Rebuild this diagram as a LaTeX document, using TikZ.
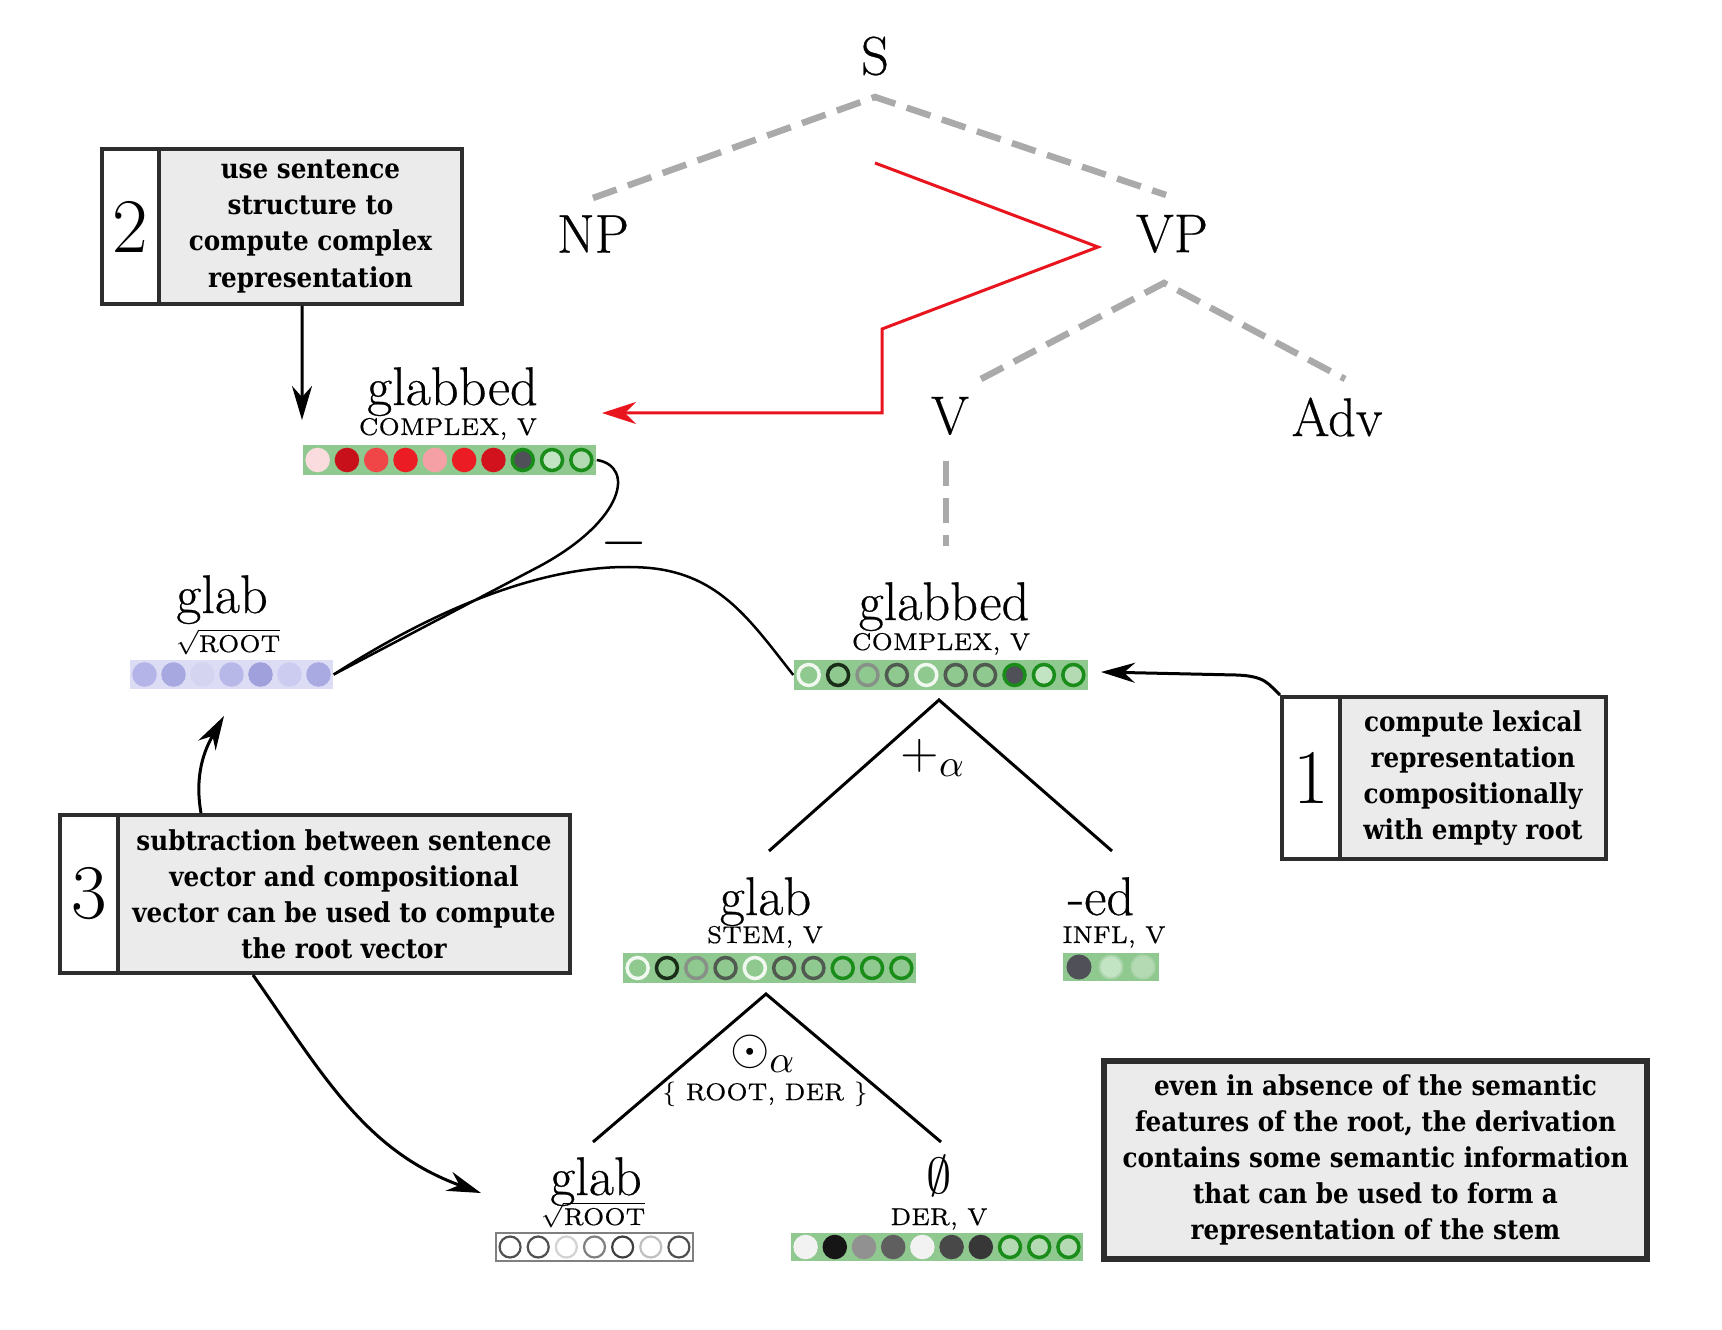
\documentclass[tikz,border=0pt]{standalone}
\usepackage{fontspec}
\newfontfamily\boxfont[FakeStretch=0.9]{DejaVu Serif}
\newfontfamily\wordfont[FakeBold=0.45]{Latin Modern Roman}
\usetikzlibrary{arrows.meta}
\definecolor{barg}{RGB}{143,201,143}
\definecolor{gborder}{RGB}{25,140,25}
\definecolor{wbord}{RGB}{240,248,240}
\definecolor{kbord}{RGB}{25,45,25}
\definecolor{gyb}{RGB}{135,145,135}
\definecolor{dgb}{RGB}{80,90,80}
\definecolor{dgfill}{RGB}{80,80,88}
\definecolor{lgfill}{RGB}{195,228,195}
\definecolor{lgfilltwo}{RGB}{180,218,180}
\definecolor{lgfillthree}{RGB}{170,212,170}
\definecolor{pinkl}{RGB}{250,220,222}
\definecolor{dred}{RGB}{200,16,26}
\definecolor{tomr}{RGB}{240,70,72}
\definecolor{brred}{RGB}{236,28,36}
\definecolor{salm}{RGB}{244,160,164}
\definecolor{crim}{RGB}{210,18,28}
\definecolor{wsm}{RGB}{242,242,242}
\definecolor{blk}{RGB}{22,22,22}
\definecolor{gyf}{RGB}{145,145,145}
\definecolor{dimg}{RGB}{95,95,95}
\definecolor{dgtwo}{RGB}{72,72,72}
\definecolor{dgthree}{RGB}{55,55,55}
\definecolor{lavbar}{RGB}{220,220,245}
\definecolor{lava}{RGB}{180,180,232}
\definecolor{lavb}{RGB}{168,168,224}
\definecolor{lavc}{RGB}{212,212,240}
\definecolor{lavd}{RGB}{184,184,232}
\definecolor{lave}{RGB}{160,160,220}
\definecolor{lavf}{RGB}{204,204,240}
\definecolor{lavg}{RGB}{170,170,226}
\definecolor{ra}{RGB}{80,80,80}
\definecolor{rc}{RGB}{210,210,210}
\definecolor{rd}{RGB}{128,128,128}
\definecolor{re}{RGB}{64,64,64}
\definecolor{rf}{RGB}{192,192,192}
\definecolor{dashgray}{RGB}{170,170,170}
\definecolor{myred}{RGB}{232,20,30}
\definecolor{boxgray}{RGB}{235,235,235}
\definecolor{boxline}{RGB}{45,45,45}
\newcommand\dotrow[6][]{%
  \foreach \i/\f/\b in {#5} {
    \node[dot,#1,fill=\f,draw=\b] (#6-\i) at ({#2+(\i-0.5)*#4},#3) {};
  }}
\tikzset{
  cat/.style={font=\wordfont\fontsize{15.5}{18}\selectfont, inner sep=0},
  word/.style={font=\wordfont\fontsize{15.5}{18}\selectfont, inner sep=0, anchor=base},
  feat/.style={font=\wordfont\fontsize{6.9}{8}\selectfont, inner sep=0, anchor=base},
  gbar/.style={rectangle, fill=barg, inner sep=0, minimum height=3mm},
  dot/.style={circle, inner sep=0, minimum size=2.1mm, line width=0.35mm},
  tdash/.style={draw=dashgray, line width=0.65mm, dash pattern=on 2.5mm off 1.2mm},
  tline/.style={draw=black, line width=0.3mm},
  cline/.style={draw=black, line width=0.25mm},
  redl/.style={draw=myred, line width=0.3mm},
  arr/.style={draw=black, line width=0.3mm, -{Stealth[length=3.4mm,width=2mm]}},
  numbox/.style={rectangle, draw=boxline, line width=0.4mm, fill=white, inner sep=0, font=\fontsize{22}{24}\selectfont},
  txtbox/.style={rectangle, draw=boxline, line width=0.4mm, fill=boxgray, inner sep=0, align=center, font=\boxfont\bfseries\fontsize{7.8}{10.25}\selectfont}
}
\begin{document}
\begin{tikzpicture}[x=0.1mm,y=-0.1mm]
\fill[white] (0,0) rectangle (1722,1330);
\useasboundingbox (0,0) rectangle (1722,1330);

% ---------- syntax tree ----------
\node[cat] (S) at (875,56) {S};
\node[cat] (NP) at (593,234) {NP};
\node[cat] (VP) at (1172,234) {VP};
\node[cat] (V) at (950,416) {V};
\node[cat] (Adv) at (1337,417) {Adv};
\coordinate (s0) at (875,97);
\coordinate (np0) at (593,198);
\coordinate (vp0) at (1166,195);
\draw[tdash] (np0) -- (s0) -- (vp0);
\coordinate (vp1) at (1164,283);
\coordinate (v0) at (981,379);
\coordinate (adv0) at (1345,379);
\draw[tdash] (v0) -- (vp1) -- (adv0);
\coordinate (v1) at (946,461);
\coordinate (v2) at (946,546);
\draw[tdash] (v1) -- (v2);

% ---------- vectors ----------
% top glabbed
\node[word] (wtop) at (452.5,405) {glabbed};
\node[feat] (ftop) at (448,435) {COMPLEX, V};
\node[gbar, minimum width=29.3mm] (topbar) at (449.5,460) {};
\dotrow{303}{460}{29.3}{1/pinkl/pinkl,2/dred/dred,3/tomr/tomr,4/brred/brred,5/salm/salm,6/brred/brred,7/crim/crim,8/dgfill/gborder,9/lgfill/gborder,10/lgfilltwo/gborder}{top}

% middle root glab
\node[word] (wrootm) at (222,613) {glab};
\node[feat] (frootm) at (228,652) {$\sqrt{\mbox{ROOT}}$};
\node[rectangle, fill=lavbar, inner sep=0, minimum width=20.3mm, minimum height=2.9mm] (rootm) at (231.5,674.5) {};
\dotrow{130}{674.5}{29}{1/lava/lava,2/lavb/lavb,3/lavc/lavc,4/lavd/lavd,5/lave/lave,6/lavf/lavf,7/lavg/lavg}{rm}

% middle glabbed
\node[word] (wmid) at (944,620) {glabbed};
\node[feat] (fmid) at (941,650) {COMPLEX, V};
\node[gbar, minimum width=29.4mm] (midbar) at (941,675) {};
\dotrow{794}{675}{29.4}{1/barg/wbord,2/barg/kbord,3/barg/gyb,4/barg/dgb,5/barg/wbord,6/barg/dgb,7/barg/dgb,8/dgfill/gborder,9/lgfill/gborder,10/lgfilltwo/gborder}{mid}

% stem glab
\node[word] (wstem) at (765.5,915) {glab};
\node[feat] (fstem) at (765,943) {STEM, V};
\node[gbar, minimum width=29.3mm] (stembar) at (769.5,968) {};
\dotrow{623}{968}{29.3}{1/barg/wbord,2/barg/kbord,3/barg/gyb,4/barg/dgb,5/barg/wbord,6/barg/dgb,7/barg/dgb,8/barg/gborder,9/barg/gborder,10/barg/gborder}{stem}

% -ed
\node[word] (wed) at (1101,915) {-ed};
\node[feat] (fed) at (1114,943) {INFL, V};
\node[gbar, minimum width=9.6mm, minimum height=2.8mm] (inflbar) at (1111,967) {};
\dotrow[minimum size=2.3mm, line width=0.2mm]{1063}{967}{32}{1/dgfill/dgfill,2/lgfill/lgfillthree,3/lgfilltwo/lgfillthree}{infl}

% bottom root glab
\node[word] (wrootb) at (596,1195) {glab};
\node[feat] (frootb) at (593,1225) {$\sqrt{\mbox{ROOT}}$};
\node[rectangle, draw=rd, line width=0.2mm, fill=white, inner sep=0, minimum width=19.7mm, minimum height=2.8mm] (rootb) at (594.5,1247) {};
\dotrow[line width=0.22mm]{496}{1247}{28.14}{1/white/ra,2/white/ra,3/white/rc,4/white/rd,5/white/re,6/white/rf,7/white/ra}{rb}

% derivation empty
\node[cat] (wder) at (939,1176) {$\emptyset$};
\node[feat] (fder) at (939,1225) {DER, V};
\node[gbar, minimum width=29.2mm, minimum height=2.8mm] (derbar) at (937,1247) {};
\dotrow{791}{1247}{29.2}{1/wsm/wsm,2/blk/blk,3/gyf/gyf,4/dimg/dimg,5/wsm/wsm,6/dgtwo/dgtwo,7/dgthree/dgthree,8/lgfilltwo/gborder,9/lgfilltwo/gborder,10/lgfilltwo/gborder}{der}

% ---------- composition trees ----------
\coordinate (a1) at (939,700);
\coordinate (a1l) at (769,851);
\coordinate (a1r) at (1112,851);
\draw[tline] (a1l) -- (a1) -- (a1r);
\node[cat] (plus) at (933,758) {$+_\alpha$};
\coordinate (a2) at (766,994);
\coordinate (a2l) at (593,1142);
\coordinate (a2r) at (941,1142);
\draw[tline] (a2l) -- (a2) -- (a2r);
\node[cat] (odot) at (763,1054) {$\odot_\alpha$};
\node[feat, anchor=center] (rd) at (765,1094) {$\{$ ROOT, DER $\}$};

% ---------- red path ----------
\coordinate (r0) at (875,163);
\coordinate (r1) at (1098,247);
\coordinate (r2) at (882,329);
\coordinate (r3) at (882,413);
\coordinate (rt) at (602,413);
\draw[redl, -{Stealth[length=3.4mm,width=2.2mm]}] (r0) -- (r1) -- (r2) -- (r3) -- (rt);

% ---------- subtraction curves ----------
\draw[cline] (topbar.east) .. controls (635,466) and (625,520) .. (540,566) -- (rootm.east);
\draw[cline] (rootm.east) .. controls (450,600) and (560,560) .. (650,568) .. controls (720,575) and (750,620) .. (midbar.west);
\node[inner sep=0, font=\fontsize{16}{18}\selectfont] (minus) at (624,543) {$-$};

% ---------- boxes ----------
\node[numbox, minimum width=5.7mm, minimum height=15.5mm] (b2n) at (130.5,226.5) {2};
\node[txtbox, minimum width=30.3mm, minimum height=15.5mm] (b2t) at (310.5,226.5) {use sentence\\structure to\\compute complex\\representation};
\node[numbox, minimum width=5.8mm, minimum height=16.2mm] (b1n) at (1311,778) {1};
\node[txtbox, minimum width=26.6mm, minimum height=16.2mm] (b1t) at (1473,778) {compute lexical\\representation\\compositionally\\with empty root};
\node[numbox, minimum width=5.8mm, minimum height=15.8mm] (b3n) at (89,894) {3};
\node[txtbox, minimum width=45.2mm, minimum height=15.8mm] (b3t) at (344,894) {subtraction between sentence\\vector and compositional\\vector can be used to compute\\the root vector};
\node[txtbox, line width=0.55mm, minimum width=54.3mm, minimum height=19.8mm] (b4) at (1375.5,1160) {even in absence of the semantic\\features of the root, the derivation\\contains some semantic information\\that can be used to form a\\representation of the stem};

% ---------- arrows ----------
\coordinate (t2) at (302,420);
\draw[arr] ([xshift=-0.85mm]b2t.south) -- (t2);
\coordinate (t1) at (1101,672);
\draw[arr] (b1n.north west) .. controls (1268,684) and (1266,676) .. (1236,675) -- (t1);
\coordinate (t3) at (224,716);
\draw[arr] ([xshift=-14.3mm]b3t.north) to[out=100,in=240] (t3);
\coordinate (t4) at (481,1193);
\draw[arr] ([xshift=-9.1mm]b3t.south) to[out=-55,in=160] (t4);
\end{tikzpicture}
\end{document}
